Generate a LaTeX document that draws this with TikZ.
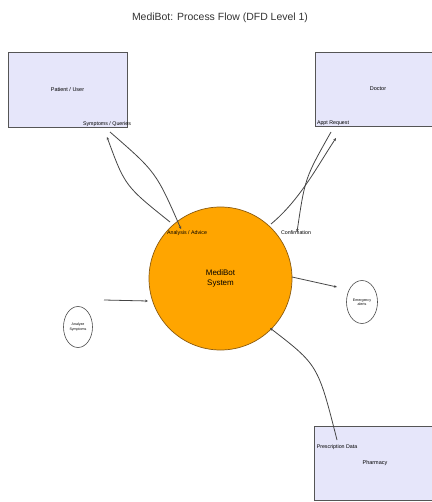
\documentclass[tikz,border=0pt]{standalone}
\usepackage{fontspec}
\setmainfont{Liberation Sans}
\usetikzlibrary{arrows.meta,shapes.geometric}
\definecolor{boxfill}{HTML}{E6E6FA}
\definecolor{boxline}{HTML}{555555}
\definecolor{sysfill}{HTML}{FFA500}
\definecolor{sysline}{HTML}{8A5A10}
\definecolor{flow}{HTML}{444444}
\begin{document}
\begin{tikzpicture}[x=1bp,y=-1bp,
  entity/.style={draw=boxline,line width=0.9pt,fill=boxfill,inner sep=0pt,font=\fontsize{5.5}{6}\selectfont},
  proc/.style={circle,draw=sysline,line width=0.7pt,fill=sysfill,inner sep=0pt,minimum size=143bp,font=\fontsize{8}{9.5}\selectfont,align=center},
  small/.style={ellipse,draw=black!70,line width=0.6pt,fill=white,inner sep=0pt,font=\fontsize{3.6}{4.2}\selectfont,align=center},
  flowlab/.style={font=\fontsize{5.3}{6}\selectfont,inner sep=0pt},
  flowline/.style={draw=flow,line width=0.8pt,-{Stealth[length=3bp,width=2.6bp]}}
]
\useasboundingbox (0,0) rectangle (431,502);
\node[font=\fontsize{10.5}{12}\selectfont,text=black!80] (title) at (220,18) {MediBot: Process Flow (DFD Level 1)};

\node[entity,minimum width=119bp,minimum height=75bp] (patient) at (67.5,89.5) {Patient / User};
\node[entity,minimum width=126bp,minimum height=74bp] (doctor) at (378,89) {Doctor};
\node[entity,minimum width=126bp,minimum height=74bp] (pharmacy) at (377,463) {};
\node[font=\fontsize{5.5}{6}\selectfont] (pharmlab) at (375,463) {Pharmacy};
\node[proc] (sys) at (220.5,278.5) {MediBot\\System};
\node[small,minimum width=31bp,minimum height=43bp] (alerts) at (362,302) {Emergency\\alerts};
\node[small,minimum width=29bp,minimum height=41bp] (analyze) at (78,327) {Analyze\\Symptoms};

% free ends
\coordinate (pA) at (107,137);
\coordinate (pB) at (110,132);
\coordinate (dA) at (336,138);
\coordinate (dB) at (331,132);
\coordinate (phA) at (337,440);
\coordinate (aL) at (104,300);
\coordinate (sL) at (148,301);
\coordinate (sR) at (292,277);
\coordinate (eL) at (337,287);
\coordinate (s1) at (170,222);
\coordinate (s2) at (181,229);
\coordinate (s3) at (271,224);
\coordinate (s4) at (297,232);
\coordinate (s5) at (270,328);

% patient flows
\draw[flowline] (pB) .. controls (156,172) .. (s2);
\draw[flowline] (s1) .. controls (125,186) .. (pA);
% doctor flows
\draw[flowline] (s3) .. controls (300,200) and (318,165) .. (dA);
\draw[flowline] (dB) .. controls (305,178) .. (s4);
% pharmacy flow
\draw[flowline] (phA) .. controls (318,365) .. (s5);
% other flows
\draw[flowline] (sR) -- (eL);
\draw[flowline] (aL) -- (sL);

% labels
\node[flowlab] (l1) at (107,124) {Symptoms / Queries};
\node[flowlab] (l2) at (333,123) {Appt Request};
\node[flowlab] (l3) at (187,233) {Analysis / Advice};
\node[flowlab] (l4) at (296,233) {Confirmation};
\node[flowlab] (l5) at (337,447) {Prescription Data};
\end{tikzpicture}
\end{document}
